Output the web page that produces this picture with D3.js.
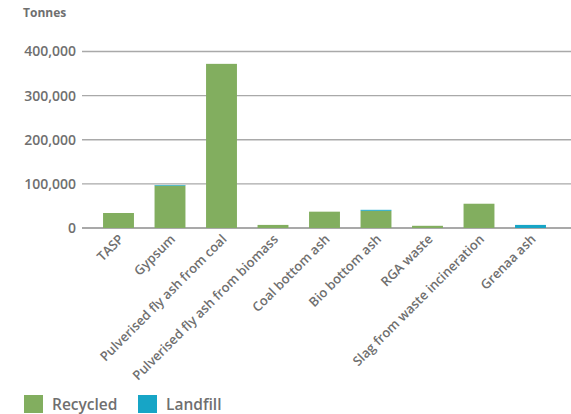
<!DOCTYPE html>
<html><head><meta charset="utf-8">
<script src="https://cdn.jsdelivr.net/npm/d3@7"></script>
<style>
body{margin:0;background:#fff;}
text{font-family:"Open Sans","Noto Sans",sans-serif;}
</style></head>
<body><svg id="c" width="571" height="414"></svg>
<script>
const categories = ["TASP","Gypsum","Pulverised fly ash from coal","Pulverised fly ash from biomass","Coal bottom ash","Bio bottom ash","RGA waste","Slag from waste incineration","Grenaa ash"];
const recycled = [34000, 96000, 372000, 7000, 37000, 39000, 5000, 55000, 0];
const landfill = [0, 1500, 0, 0, 0, 2200, 0, 0, 7000];
const yTicks = [0, 100000, 200000, 300000, 400000];
const seriesNames = ["Recycled","Landfill"];
const colors = ["#82ae5f","#17a5c6"];

const svg = d3.select("#c");
const x = d3.scaleBand().domain(categories).range([92.75, 556.25]).paddingInner(0.4).paddingOuter(0.2);
const y = d3.scaleLinear().domain([0, 400000]).range([228, 51.5]);

svg.append("g").selectAll("line").data(yTicks).join("line")
  .attr("x1", 82).attr("x2", 571)
  .attr("y1", d => y(d)).attr("y2", d => y(d))
  .attr("stroke", "#a9a9a9")
  .attr("stroke-width", d => d === 0 ? 2 : 1.4);

svg.append("g").selectAll("text").data(yTicks).join("text")
  .attr("x", 76).attr("y", d => y(d)).attr("dy", "0.35em")
  .attr("text-anchor", "end").attr("fill", "#6f6f6f")
  .attr("font-size", 14).attr("font-weight", 600)
  .text(d => d3.format(",")(d));

svg.append("text").attr("x", 23).attr("y", 17).attr("fill", "#6f6f6f")
  .attr("font-size", 12).attr("font-weight", 700).text("Tonnes");

const data = categories.map((c, i) => ({cat: c, Recycled: recycled[i], Landfill: landfill[i]}));
const stack = d3.stack().keys(seriesNames)(data);
svg.append("g").selectAll("g").data(stack).join("g")
  .attr("fill", (d, i) => colors[i])
  .selectAll("rect").data(d => d).join("rect")
  .attr("x", d => x(d.data.cat)).attr("width", x.bandwidth())
  .attr("y", d => y(d[1])).attr("height", d => y(d[0]) - y(d[1]));

svg.append("g").selectAll("text").data(categories).join("text")
  .attr("transform", d => `translate(${x(d) + x.bandwidth()/2 + 6},${240}) rotate(-45)`)
  .attr("text-anchor", "end").attr("fill", "#6f6f6f")
  .attr("font-size", 13).attr("font-weight", 600)
  .text(d => d);

const lg = svg.append("g");
const lx = [24, 138];
seriesNames.forEach((s, i) => {
  lg.append("rect").attr("x", lx[i]).attr("y", 395).attr("width", 19).attr("height", 18).attr("fill", colors[i]);
  lg.append("text").attr("x", lx[i] + 28).attr("y", 410).attr("fill", "#6f6f6f")
    .attr("font-size", 15.5).attr("font-weight", 600).text(s);
});
</script></body></html>
